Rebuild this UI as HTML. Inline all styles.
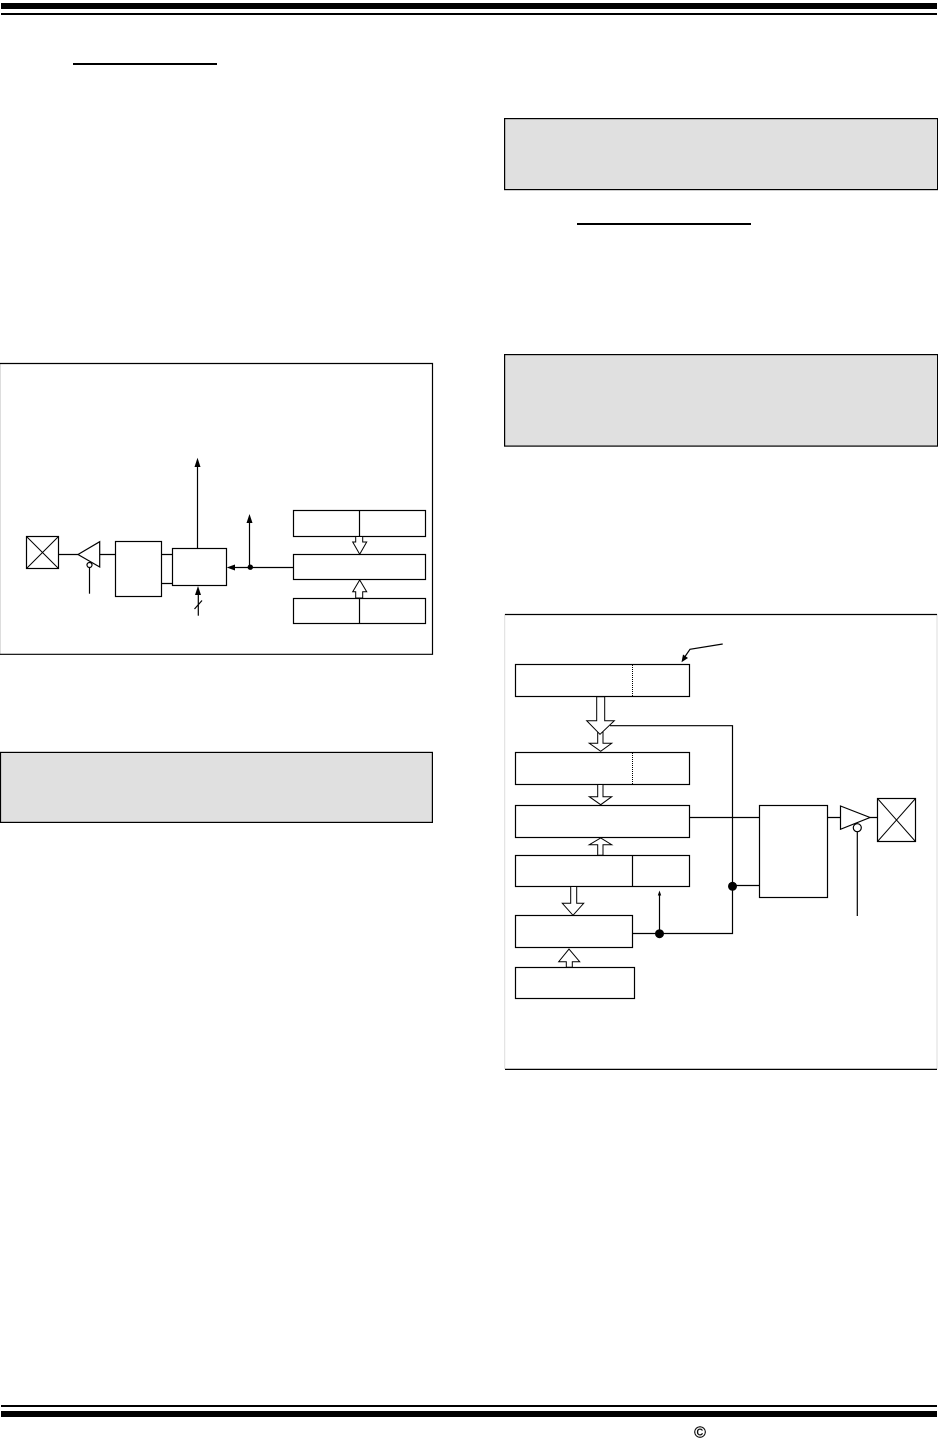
<!DOCTYPE html>
<html lang="en">
<head>
<meta charset="utf-8">
<title>Block diagrams</title>
<style>
html,body{margin:0;padding:0;background:#fff;width:938px;height:1438px;overflow:hidden}
svg{display:block}
.l{fill:none;stroke:#000;stroke-width:1.2}
.b{fill:#fff;stroke:#000;stroke-width:1.2}
.h{fill:#fff;stroke:#000;stroke-width:1}
.k{fill:#000;stroke:none}
</style>
</head>
<body>
<svg xmlns="http://www.w3.org/2000/svg" width="938" height="1438" viewBox="0 0 938 1438">
<!-- header -->
<rect class="k" x="1" y="3" width="936" height="6"/>
<rect class="k" x="1" y="13" width="936" height="2"/>
<rect class="k" x="73" y="63" width="144" height="2"/>
<rect class="k" x="577" y="223" width="174" height="2"/>

<!-- grey notes -->
<g fill="#e0e0e0" stroke="#000" stroke-width="1.2">
<rect x="504.6" y="118.6" width="433" height="71"/>
<rect x="504.6" y="354.6" width="433" height="91.5"/>
<rect x="0.5" y="752.4" width="431.9" height="70"/>
</g>

<!-- left figure frame -->
<path d="M0.5 363V654" stroke="#ddd" stroke-width="1" fill="none"/>
<path class="l" d="M0 363.5H432.5V654.3H0"/>

<!-- left figure -->
<rect class="b" x="26.5" y="536.5" width="32" height="32"/>
<path d="M26.5 536.5L58.5 568.5M58.5 536.5L26.5 568.5" fill="none" stroke="#000" stroke-width="1"/>
<path class="l" d="M59 554.5H78M100 554.5H115.5"/>
<path class="b" d="M78 554.5L99.7 541.7V567Z"/>
<circle class="b" cx="89.5" cy="565" r="2.5"/>
<path class="l" d="M89.5 567.5V593.7"/>
<rect class="b" x="115.5" y="541.5" width="46" height="55"/>
<path class="l" d="M162 554.5H172M162 583.5H172"/>
<rect class="b" x="172.5" y="548.5" width="54" height="37"/>
<path class="l" d="M197.5 548V464"/>
<path class="k" d="M197.5 457.7L200.5 467H194.5Z"/>
<path class="l" d="M249.5 567V521"/>
<path class="k" d="M249.5 514L252.5 523H246.5Z"/>
<path class="l" d="M233 567.5H295"/>
<path class="k" d="M226.7 567.5L235 564.5V570.5Z"/>
<circle class="k" cx="250.3" cy="567.2" r="2.7"/>
<path class="l" d="M198.3 593V615.7"/>
<path class="k" d="M198 586L201 595H195Z"/>
<path class="l" d="M194.5 609L202 600.5" stroke-width="1"/>
<rect class="b" x="293.5" y="510.5" width="132" height="26"/>
<path class="l" d="M359.5 510.5V536.5"/>
<rect class="b" x="293.5" y="554.5" width="132" height="25"/>
<rect class="b" x="293.5" y="598.5" width="132" height="25"/>
<path class="l" d="M359.5 598.5V623.5"/>
<path class="h" d="M355.7 536.5V542H352.7L359.7 554.3L366.7 542H362.7V536.5Z"/>
<path class="h" d="M355.7 598V591.7H352.7L359.7 580L366.7 591.7H362.7V598Z"/>

<!-- right figure frame -->
<path d="M504.7 614V1069M937 614V1069" stroke="#ddd" stroke-width="1" fill="none"/>
<path class="l" d="M505 614.5H937M505 1069.4H937"/>

<!-- right figure -->
<rect class="b" x="515.5" y="664.5" width="174" height="32"/>
<path d="M632.5 665V696" stroke="#000" stroke-width="1" stroke-dasharray="1 1" fill="none"/>
<path class="l" d="M722.7 644L690 649.3L684 658"/>
<path class="k" d="M681.5 662.3L683 654.5L688 658Z"/>

<path class="l" d="M610 725.7H732.5V933.5H632.7"/>
<path class="h" d="M597.7 731V743.3H589.3L600.7 751.3L611.7 743.3H603V731Z"/>
<path class="h" d="M596.7 696.7V720.7H586.7L600 734.3L614.3 720.7H604.7V696.7Z"/>

<rect class="b" x="515.5" y="752.5" width="174" height="32"/>
<path d="M632.5 753V784" stroke="#000" stroke-width="1" stroke-dasharray="1 1" fill="none"/>
<path class="h" d="M597.7 784.5V796.7H589.3L600.7 804.7L611.7 796.7H603V784.5Z"/>
<rect class="b" x="515.5" y="805.5" width="174" height="32"/>
<path class="h" d="M597.7 855.3V844.7H589.3L600.7 838L611.7 844.7H603V855.3Z"/>
<rect class="b" x="515.5" y="855.5" width="174" height="31"/>
<path class="l" d="M632.5 855.5V886.5"/>
<path class="h" d="M570.7 886.5V903.3H562.3L573 915.3L583.7 903.3H576.7V886.5Z"/>
<rect class="b" x="515.5" y="915.5" width="117" height="32"/>
<path class="h" d="M566.3 967.3V961.7H558.7L569 949L579.7 961.7H572.3V967.3Z"/>
<rect class="b" x="515.5" y="967.5" width="119" height="31"/>

<path class="l" d="M659.5 933V893"/>
<path class="k" d="M659.5 890.5L661.2 895.5H657.8Z"/>
<circle class="k" cx="659.5" cy="933.7" r="4.5"/>
<circle class="k" cx="732.5" cy="886.3" r="4.5"/>
<path class="l" d="M732.5 885.5H759.5M690 817.5H759.5M828 817.5H840.5M870 817.5H877.5"/>
<rect class="b" x="759.5" y="805.5" width="68" height="92"/>
<path class="b" d="M840.5 806L870 817.5L840.5 829.3Z"/>
<circle class="b" cx="857.3" cy="827.7" r="4"/>
<path class="l" d="M857.3 831.7V916"/>
<rect class="b" x="877.5" y="798.5" width="38" height="43"/>
<path d="M877.5 798.5L915.5 841.5M915.5 798.5L877.5 841.5" fill="none" stroke="#000" stroke-width="1"/>

<!-- footer -->
<rect class="k" x="1" y="1405" width="936" height="2"/>
<rect class="k" x="1" y="1411" width="936" height="6"/>
<text x="700" y="1437.5" text-anchor="middle" font-family="'Liberation Sans',sans-serif" font-size="16" fill="#000" stroke="#000" stroke-width="0.3">©</text>
</svg>
</body>
</html>
